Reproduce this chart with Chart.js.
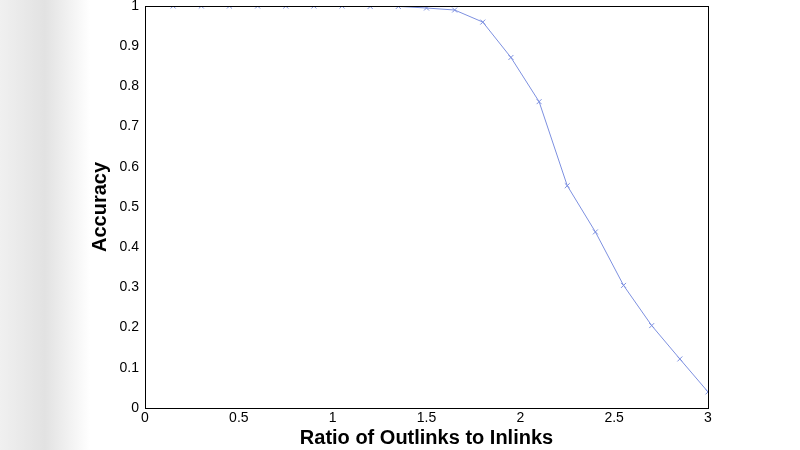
<!DOCTYPE html>
<html><head><script src="https://cdn.jsdelivr.net/npm/chart.js@4"></script>
<style>html,body{margin:0;background:#fff}#w{width:800px;height:450px}</style></head>
<body><div id="w"><canvas id="c"></canvas></div>
<script>
const xValues=[0.15,0.3,0.45,0.6,0.75,0.9,1.05,1.2,1.35,1.5,1.65,1.8,1.95,2.1,2.25,2.4,2.55,2.7,2.85,3.0];
const accuracy=[1,1,1,1,1,1,1,0.999,0.999,0.995,0.99,0.96,0.872,0.762,0.553,0.438,0.305,0.205,0.122,0.04];
const xTitle='Ratio of Outlinks to Inlinks';
const yTitle='Accuracy';
const bg={id:'bg',beforeDraw(c){const x=c.ctx;const g=x.createLinearGradient(0,0,90,0);g.addColorStop(0,'#f0f0f0');g.addColorStop(0.5,'#e2e2e2');g.addColorStop(1,'#ffffff');x.fillStyle=g;x.fillRect(0,0,90,450);},
afterDraw(c){const a=c.chartArea,x=c.ctx;x.save();x.strokeStyle='#000';x.lineWidth=1;x.strokeRect(a.left+0.5,a.top+0.5,a.right-a.left,a.bottom-a.top);
x.translate(100,(a.top+a.bottom)/2);x.rotate(-Math.PI/2);x.fillStyle='#000';x.font='bold 20px "Liberation Sans"';x.textAlign='center';x.textBaseline='middle';x.fillText(yTitle,0,0);x.restore();}};
const fmt=v=>String(Math.round(v*10)/10);
new Chart(document.getElementById('c'),{type:'line',
data:{datasets:[{data:xValues.map((v,i)=>({x:v,y:accuracy[i]})),borderColor:'#7d90e0',borderWidth:1,pointStyle:'crossRot',pointRadius:3.5,pointBorderColor:'#7d90e0',pointBorderWidth:1,fill:false,tension:0}]},
options:{responsive:true,maintainAspectRatio:false,animation:false,layout:{padding:{top:6,right:92,left:0,bottom:0}},
plugins:{legend:{display:false},tooltip:{enabled:false}},
scales:{x:{type:'linear',min:0,max:3,ticks:{stepSize:0.5,callback:fmt,color:'#000',font:{family:'Liberation Sans',size:14},padding:2},grid:{display:false,drawTicks:false},border:{color:'#000'},
title:{display:true,text:xTitle,color:'#000',font:{family:'Liberation Sans',size:20,weight:'bold'},padding:{top:0,bottom:0}},afterFit(s){s.height=42;s.paddingLeft=0;s.paddingRight=0;}},
y:{min:0,max:1,ticks:{stepSize:0.1,callback:fmt,color:'#000',font:{family:'Liberation Sans',size:14},padding:6},grid:{display:false,drawTicks:false},border:{color:'#000'},
title:{display:false},afterFit(s){s.width=145;s.paddingTop=0;s.paddingBottom=0;}}}},
plugins:[bg]});
</script></body></html>
